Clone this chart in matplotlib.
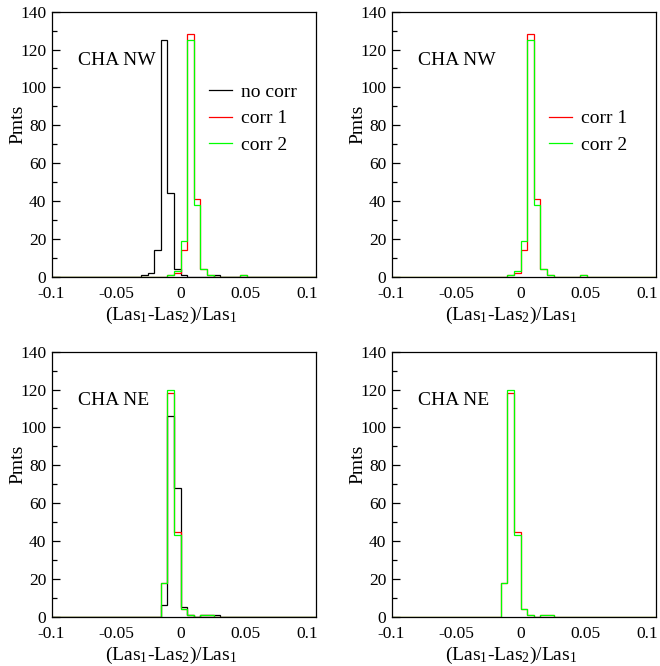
import numpy as np
import matplotlib
matplotlib.use("Agg")
import matplotlib.pyplot as plt
from matplotlib.lines import Line2D
from matplotlib.ticker import MultipleLocator
import matplotlib.transforms as mtransforms

plt.rcParams['font.family'] = ['Liberation Serif', 'DejaVu Serif']
plt.rcParams['mathtext.fontset'] = 'custom'
plt.rcParams['mathtext.rm'] = 'Liberation Serif'
plt.rcParams['mathtext.it'] = 'Liberation Serif'

# ---- data (bin centres and counts, bin width 0.005) ----
bin_width = 0.005
x_min, x_max = -0.1, 0.1

nw_nocorr_x = [-0.03, -0.025, -0.02, -0.015, -0.01, -0.005, 0.0, 0.025]
nw_nocorr_y = [1, 2, 14, 125, 44, 4, 1, 1]
nw_corr1_x = [-0.01, -0.005, 0.0, 0.005, 0.01, 0.015, 0.02, 0.045]
nw_corr1_y = [1, 2, 14, 128, 41, 4, 1, 1]
nw_corr2_x = [-0.01, -0.005, 0.0, 0.005, 0.01, 0.015, 0.02, 0.045]
nw_corr2_y = [1, 3, 19, 125, 38, 4, 1, 1]

ne_nocorr_x = [-0.015, -0.01, -0.005, 0.0, 0.005, 0.015, 0.02, 0.025]
ne_nocorr_y = [6, 106, 68, 5, 1, 1, 1, 1]
ne_corr1_x = [-0.015, -0.01, -0.005, 0.0, 0.005, 0.015, 0.02]
ne_corr1_y = [18, 118, 45, 4, 1, 1, 1]
ne_corr2_x = [-0.015, -0.01, -0.005, 0.0, 0.005, 0.015, 0.02]
ne_corr2_y = [18, 120, 43, 4, 1, 1, 1]

series_labels = ["no corr", "corr 1", "corr 2"]
series_colors = ["#000000", "#ff0000", "#00ff00"]
panel_titles = ["CHA NW", "CHA NW", "CHA NE", "CHA NE"]
y_ticks = [0, 20, 40, 60, 80, 100, 120, 140]
x_ticks = [-0.1, -0.05, 0, 0.05, 0.1]
x_ticklabels = ["-0.1", "-0.05", "0", "0.05", "0.1"]

edges = np.arange(x_min - bin_width / 2, x_max + bin_width, bin_width)


def hist(xs, ys):
    counts, _ = np.histogram(xs, bins=edges, weights=ys)
    return counts


panels = [
    [(nw_nocorr_x, nw_nocorr_y, 0), (nw_corr1_x, nw_corr1_y, 1), (nw_corr2_x, nw_corr2_y, 2)],
    [(nw_corr1_x, nw_corr1_y, 1), (nw_corr2_x, nw_corr2_y, 2)],
    [(ne_nocorr_x, ne_nocorr_y, 0), (ne_corr1_x, ne_corr1_y, 1), (ne_corr2_x, ne_corr2_y, 2)],
    [(ne_corr1_x, ne_corr1_y, 1), (ne_corr2_x, ne_corr2_y, 2)],
]
show_legend = [True, True, False, False]

W, H = 660, 666
fig = plt.figure(figsize=(W / 100, H / 100), dpi=100)

boxes = [
    (51.7, 11.7), (391.7, 11.7),
    (51.7, 351.7), (391.7, 351.7),
]
aw, ah = 264.3, 265.0
label_shift_px = [-1, -1, -3, -4, -9]

for i, (bx, by) in enumerate(boxes):
    ax = fig.add_axes([bx / W, 1 - (by + ah) / H, aw / W, ah / H])
    for xs, ys, si in panels[i]:
        ax.stairs(hist(xs, ys), edges, color=series_colors[si], lw=0.9,
                  baseline=0)
    ax.set_xlim(x_min, x_max)
    ax.set_ylim(0, 140)
    ax.set_yticks(y_ticks)
    ax.yaxis.set_minor_locator(MultipleLocator(10))
    ax.set_xticks(x_ticks)
    ax.set_xticklabels(x_ticklabels)
    ax.tick_params(axis='y', which='major', direction='in', length=6,
                   width=0.9, labelsize=12.5, pad=4, right=False)
    ax.tick_params(axis='y', which='minor', direction='in', length=3.5,
                   width=0.9, right=False)
    ax.tick_params(axis='x', which='both', length=0, labelsize=12.5, pad=7)
    for lab, dx in zip(ax.get_xticklabels(), label_shift_px):
        lab.set_transform(lab.get_transform() +
                          mtransforms.ScaledTranslation(dx / 100, 0, fig.dpi_scale_trans))
    for sp in ax.spines.values():
        sp.set_linewidth(0.9)
        sp.set_color('#000000')
    ax.set_xlabel(r"(Las$_\mathregular{1}$-Las$_\mathregular{2}$)/Las$_\mathregular{1}$",
                  fontsize=14, labelpad=0)
    ax.xaxis.set_label_coords(0.451, -0.105)
    ax.set_ylabel("Pmts", fontsize=14, labelpad=0)
    ax.yaxis.set_label_coords(-0.097, 0.576)
    ax.text(0.098, 0.815, panel_titles[i], transform=ax.transAxes,
            fontsize=14, va='center', ha='left')
    if show_legend[i]:
        handles = []
        labels = []
        present = [p[2] for p in panels[i]]
        for si in range(3):
            if si in present:
                handles.append(Line2D([], [], color=series_colors[si], lw=0.9))
                labels.append(series_labels[si])
            else:
                handles.append(Line2D([], [], color='none', lw=0.9))
                labels.append("")
        ax.legend(handles, labels, loc='upper left',
                  bbox_to_anchor=(0.594, 0.731), frameon=False, fontsize=14,
                  handlelength=1.2, handletextpad=0.45, labelspacing=0.47,
                  borderpad=0, borderaxespad=0)

fig.savefig("out.png", dpi=100)
